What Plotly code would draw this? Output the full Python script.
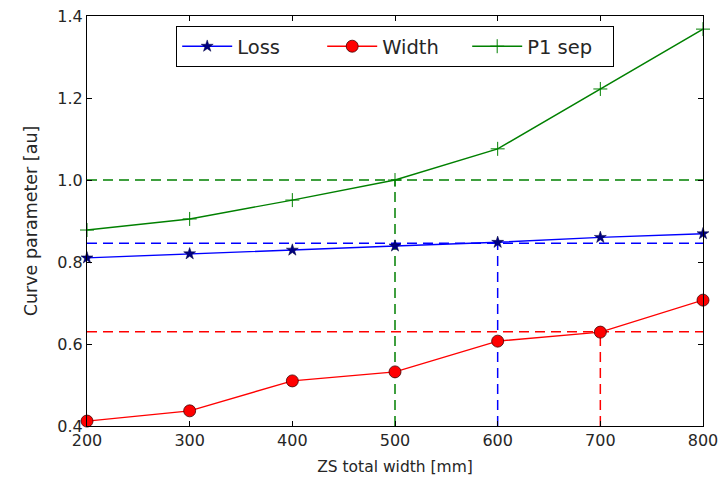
import plotly.graph_objects as go

# ZS total width sweep [mm]
widths_mm = [200, 300, 400, 500, 600, 700, 800]

# Curve parameters [au]
loss = [0.810, 0.820, 0.829, 0.839, 0.848, 0.860, 0.869]
width = [0.412, 0.437, 0.510, 0.532, 0.607, 0.629, 0.707]
p1_sep = [0.878, 0.905, 0.951, 1.000, 1.076, 1.222, 1.368]

# Chosen operating points: (x, threshold level) per curve
loss_pick = (600, 0.846)
width_pick = (700, 0.630)
sep_pick = (500, 1.000)

x_range = [200, 800]
y_range = [0.4, 1.4]
y_ticks = [0.4, 0.6, 0.8, 1.0, 1.2, 1.4]
x_ticks = [200, 300, 400, 500, 600, 700, 800]

FONT = "DejaVu Sans"
TEXT = "#262626"
BLUE = "#0000ff"
RED = "#ff0000"
GREEN = "#008000"

fig = go.Figure()

# Dashed guide lines: horizontal at the threshold, vertical from the axis up to it
for (px, level), color in [(sep_pick, GREEN), (loss_pick, BLUE), (width_pick, RED)]:
    fig.add_trace(go.Scatter(
        x=x_range, y=[level, level], mode="lines", showlegend=False,
        line=dict(color=color, width=1.5, dash="10px,6px"), hoverinfo="skip"))
    fig.add_trace(go.Scatter(
        x=[px, px], y=[y_range[0], level], mode="lines", showlegend=False,
        line=dict(color=color, width=1.5, dash="10px,6px"), hoverinfo="skip"))

fig.add_trace(go.Scatter(
    x=widths_mm, y=loss, name="Loss", mode="lines+markers",
    line=dict(color=BLUE, width=1.4),
    marker=dict(symbol="star", size=9, color="#000080",
                line=dict(color="#000040", width=0.5)),
    cliponaxis=False))
fig.add_trace(go.Scatter(
    x=widths_mm, y=width, name="Width", mode="lines+markers",
    line=dict(color=RED, width=1.4),
    marker=dict(symbol="circle", size=12, color=RED,
                line=dict(color="#400000", width=0.8)),
    cliponaxis=False))
fig.add_trace(go.Scatter(
    x=widths_mm, y=p1_sep, name="P1 sep", mode="lines+markers",
    line=dict(color=GREEN, width=1.4),
    marker=dict(symbol="cross-thin", size=10, color=GREEN,
                line=dict(color=GREEN, width=1)),
    cliponaxis=False))

axis_common = dict(
    showgrid=False, zeroline=False, showline=True, linecolor="black",
    linewidth=1.2, mirror="allticks", ticks="inside", ticklen=5,
    tickcolor="black", tickwidth=1, automargin=False,
    tickfont=dict(family=FONT, size=16, color=TEXT),
)

fig.update_layout(
    width=722, height=482,
    margin=dict(l=87, r=19, t=16, b=56),
    paper_bgcolor="white", plot_bgcolor="white",
    font=dict(family=FONT, size=16, color=TEXT),
    xaxis=dict(range=x_range, tickvals=x_ticks,
               title=dict(text="ZS total width [mm]", standoff=11,
                          font=dict(family=FONT, size=15.5, color=TEXT)),
               **axis_common),
    yaxis=dict(range=y_range, tickvals=y_ticks, tickformat=".1f",
               title=dict(text="Curve parameter [au]", standoff=15,
                          font=dict(family=FONT, size=17.5, color=TEXT)),
               **axis_common),
    legend=dict(orientation="h", x=0.5, xanchor="center", y=0.976, yanchor="top",
                bgcolor="white", bordercolor="black", borderwidth=1.2,
                font=dict(family=FONT, size=19.5, color=TEXT),
                itemwidth=50, entrywidthmode="pixels", entrywidth=80),
    showlegend=True,
)

fig.write_html("out.html")
